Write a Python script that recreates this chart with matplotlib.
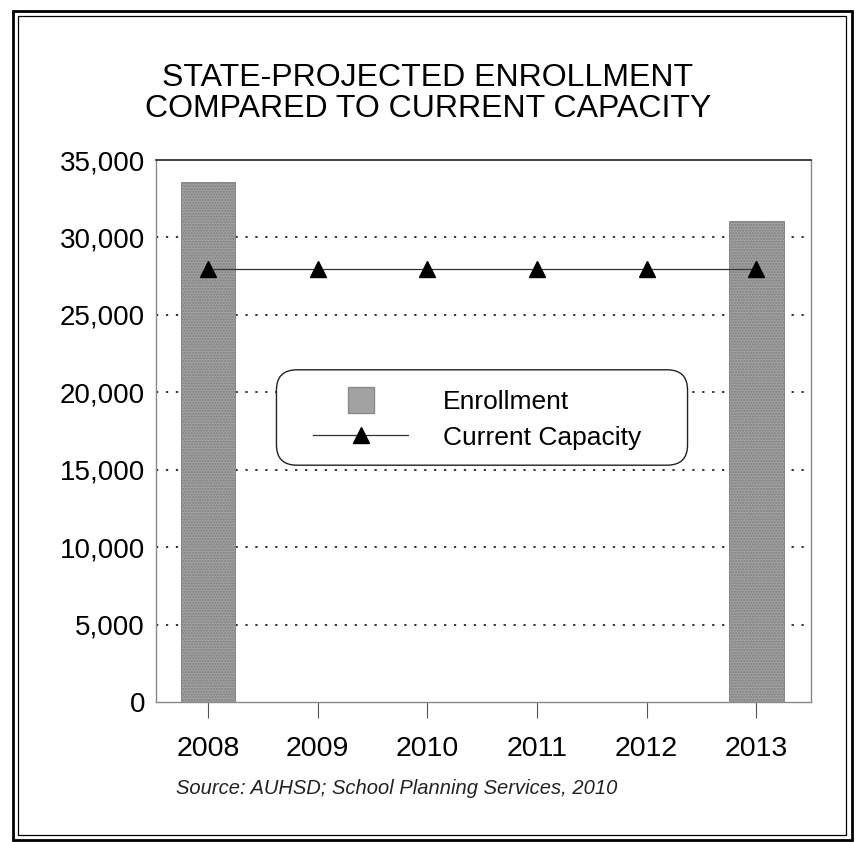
import matplotlib
matplotlib.use("Agg")
import matplotlib.pyplot as plt
from matplotlib.patches import Rectangle, FancyBboxPatch
from matplotlib.lines import Line2D

# data
years = ["2008", "2009", "2010", "2011", "2012", "2013"]
enrollment = [33550, None, None, None, None, 31050]
capacity = [27950, 27950, 27950, 27950, 27950, 27950]
y_ticks = [0, 5000, 10000, 15000, 20000, 25000, 30000, 35000]

plt.rcParams["font.family"] = ["Liberation Sans", "DejaVu Sans"]

W, H = 856, 842
fig = plt.figure(figsize=(W / 100, H / 100), dpi=100)
ax = fig.add_axes([156 / W, 1 - 702 / H, (811 - 156) / W, (702 - 160) / H])

bar_color = "#a2a2a2"
x = list(range(len(years)))
bx = [i for i, v in zip(x, enrollment) if v is not None]
bv = [v for v in enrollment if v is not None]
ax.bar(bx, bv, width=0.5, color=bar_color, edgecolor="#7d7d7d",
       hatch="......", linewidth=0.6, zorder=2)

ax.plot(x, capacity, color="#333333", linewidth=0.9, marker="^",
        markersize=11.5, markerfacecolor="black", markeredgecolor="black",
        zorder=3)

# dotted grid lines
for yv in y_ticks[1:-1]:
    ax.axhline(yv, color="black", linestyle=(0, (1.5, 5)), linewidth=1.1, zorder=1)

ax.set_xlim(-0.474, 5.5)
ax.set_ylim(0, 35000)
ax.set_yticks(y_ticks)
ax.set_yticklabels([f"{v:,}" for v in y_ticks], fontsize=20)
ax.set_xticks(x)
ax.set_xticklabels(years, fontsize=20.5)
ax.tick_params(axis="x", direction="out", length=11.5, width=0.8, color="#555555", pad=13)
ax.tick_params(axis="y", length=0, pad=8)

for side in ["left", "right", "bottom"]:
    ax.spines[side].set_color("#888888")
    ax.spines[side].set_linewidth(1.0)
ax.spines["top"].set_color("#222222")
ax.spines["top"].set_linewidth(1.2)

# legend: rounded box drawn by hand, entries placed inside it
fig.patches.append(FancyBboxPatch((297 / W, 1 - 445 / H), 370 / W, 55 / H,
                                  boxstyle="round,pad=0.024", transform=fig.transFigure,
                                  facecolor="white", edgecolor="#222222",
                                  linewidth=1.0, zorder=4))
h_enr = Line2D([], [], linestyle="none", marker="s", markersize=19,
               markerfacecolor=bar_color, markeredgecolor="#8a8a8a")
h_cap = Line2D([], [], color="#333333", linewidth=0.9, marker="^", markersize=11.5,
               markerfacecolor="black", markeredgecolor="black")
leg = fig.legend([h_enr, h_cap], ["Enrollment", "Current Capacity"],
                 loc="center", bbox_to_anchor=(477 / W, 1 - 420 / H),
                 fontsize=19, frameon=False, handlelength=3.6,
                 handletextpad=1.3, labelspacing=0.42)
leg.set_zorder(5)

fig.text(0.5, 1 - 93.5 / H, "STATE-PROJECTED ENROLLMENT\nCOMPARED TO CURRENT CAPACITY",
         ha="center", va="center", fontsize=23, linespacing=1.07)
fig.text(176 / W, 1 - 789 / H, "Source: AUHSD; School Planning Services, 2010",
         ha="left", va="center", fontsize=14.5, style="italic", color="#222222")

# double outer border of the figure panel
fig.patches.append(Rectangle((13.5 / W, 1 - 840 / H), (851.5 - 13.5) / W, (840 - 10.5) / H,
                             transform=fig.transFigure, fill=False,
                             edgecolor="black", linewidth=2.0))
fig.patches.append(Rectangle((18 / W, 1 - 835 / H), (846 - 18) / W, (835 - 16) / H,
                             transform=fig.transFigure, fill=False,
                             edgecolor="black", linewidth=0.9))

fig.savefig("out.png", dpi=100, facecolor="white")
